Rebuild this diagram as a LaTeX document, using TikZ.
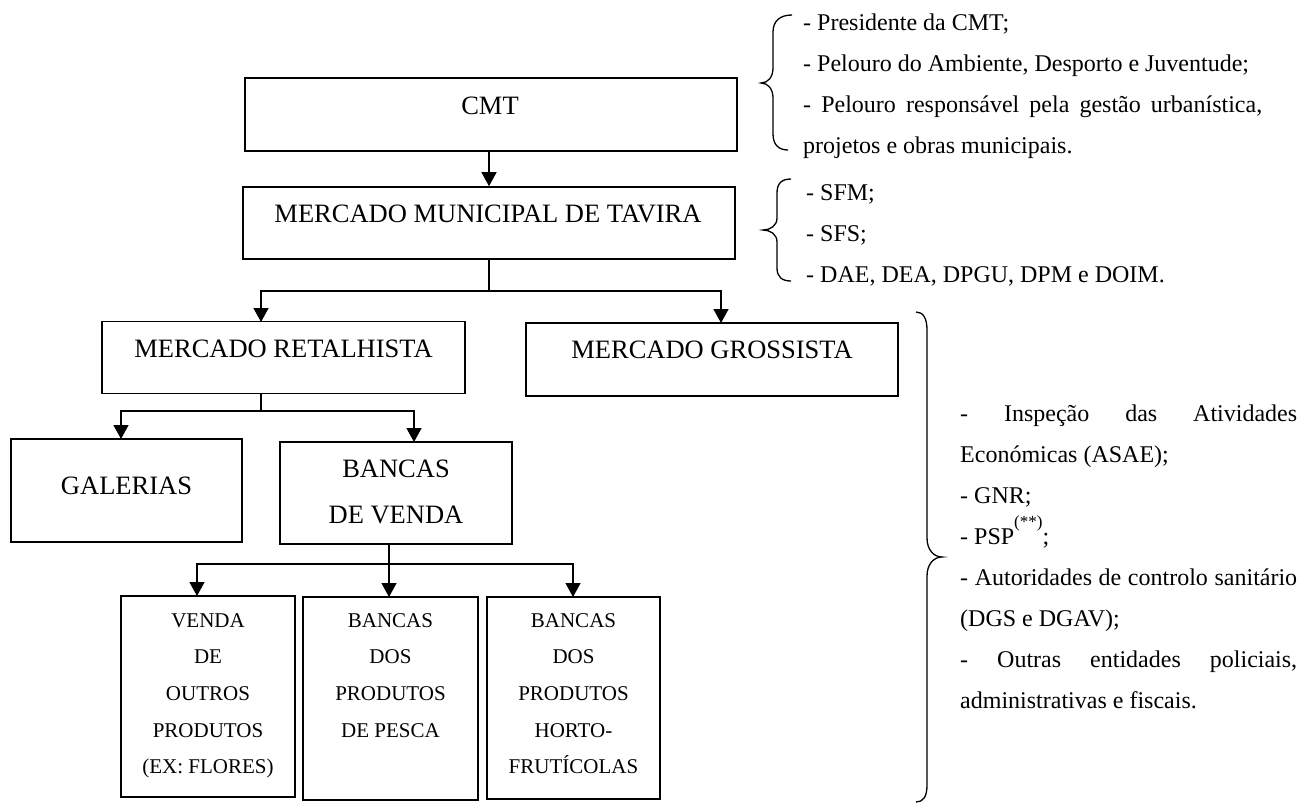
\documentclass[tikz,border=0pt]{standalone}
\usepackage{fontspec}
\setmainfont{Liberation Serif}
\usetikzlibrary{arrows.meta,calc}
\begin{document}
\begin{tikzpicture}[x=1pt,y=-1pt,
  box/.style={draw,line width=1.6pt,inner sep=0pt},
  conn/.style={line width=1.4pt},
  arr/.style={conn,-{Triangle[length=14pt,width=15pt]}},
  big/.style={font=\fontsize{26.5}{30}\selectfont,inner sep=0pt,anchor=base},
  small/.style={font=\fontsize{21}{25}\selectfont,inner sep=0pt,anchor=base},
  side/.style={font=\fontsize{24}{28}\selectfont,inner sep=0pt,anchor=base west},
  bracepath/.style={line width=1.3pt}]
\useasboundingbox (0,0) rectangle (1301,803);

% boxes
\node[box,minimum width=492pt,minimum height=73pt] (cmt) at (491,114.5) {};
\node[box,minimum width=492pt,minimum height=72pt] (mmt) at (489,223) {};
\node[box,minimum width=363pt,minimum height=72pt] (mr) at (283.5,357.5) {};
\node[box,minimum width=372pt,minimum height=73pt] (mg) at (712,359.5) {};
\node[box,minimum width=231pt,minimum height=103pt] (gal) at (126.5,490.5) {};
\node[box,minimum width=232pt,minimum height=102pt] (bdv) at (396,493) {};
\node[box,minimum width=174pt,minimum height=201pt] (b1) at (208,696.5) {};
\node[box,minimum width=175pt,minimum height=203pt] (b2) at (390.5,698.5) {};
\node[box,minimum width=173pt,minimum height=202pt] (b3) at (573.5,698) {};

% box texts
\node[big] (cmt-t) at (490,114) {CMT};
\node[big] (mmt-t) at (488,222) {MERCADO MUNICIPAL DE TAVIRA};
\node[big] (mr-t) at (283.5,357) {MERCADO RETALHISTA};
\node[big] (mg-t) at (712,358) {MERCADO GROSSISTA};
\node[big] (gal-t) at (126.5,494) {GALERIAS};
\node[big] (bdv-t1) at (396,477) {BANCAS};
\node[big] (bdv-t2) at (396,523) {DE VENDA};

\foreach \t [count=\i] in {VENDA,DE,OUTROS,PRODUTOS,(EX: FLORES)}
  \node[small] (b1-t\i) at (208,{627+36.7*(\i-1)}) {\t};
\foreach \t [count=\i] in {BANCAS,DOS,PRODUTOS,DE PESCA}
  \node[small] (b2-t\i) at (390.5,{627+36.7*(\i-1)}) {\t};
\foreach \t [count=\i] in {BANCAS,DOS,PRODUTOS,HORTO-,FRUTÍCOLAS}
  \node[small] (b3-t\i) at (573.5,{627+36.7*(\i-1)}) {\t};

% connectors
\draw[arr] (mmt.north |- cmt.south) -- (mmt.north);

\coordinate (s1) at (489,291);
\coordinate (mrin) at (261,322);
\coordinate (mgin) at (721,323);
\draw[conn] (mmt.south) -- (s1);
\draw[arr] (s1) -| (mrin);
\draw[arr] (s1) -| (mgin);

\coordinate (s2) at (261,411);
\coordinate (galin) at (121,439);
\coordinate (bdvin) at (414,442);
\draw[conn] (mr.south -| s2) -- (s2);
\draw[arr] (s2) -| (galin);
\draw[arr] (s2) -| (bdvin);

\coordinate (s3) at (389,564);
\coordinate (b1in) at (197,596);
\coordinate (b2in) at (389,597);
\coordinate (b3in) at (573,597);
\draw[conn] (bdv.south -| s3) -- (s3);
\draw[arr] (s3) -| (b1in);
\draw[arr] (s3) -- (b2in);
\draw[arr] (s3) -| (b3in);

% braces
\draw[bracepath] (792,15) .. controls (780,15) and (773,21) .. (773,32) -- (773,68)
  .. controls (773,77) and (768,83) .. (761,83)
  .. controls (768,83) and (773,89) .. (773,98) -- (773,134)
  .. controls (773,145) and (779,150) .. (788,150);
\draw[bracepath] (791,179) .. controls (781,179) and (777,184) .. (777,193) -- (777,218)
  .. controls (777,226) and (770,230) .. (763,230)
  .. controls (770,230) and (777,234) .. (777,242) -- (777,268)
  .. controls (777,277) and (782,281) .. (791,281);
\draw[bracepath] (916,312) .. controls (923,312) and (927,318) .. (927,330) -- (927,538)
  .. controls (927,550) and (934,557) .. (942,557)
  .. controls (934,557) and (927,564) .. (927,576) -- (927,785)
  .. controls (927,797) and (923,802) .. (916,802);

% side texts
\node[side] (g1a) at (803,30) {- Presidente da CMT;};
\node[side] (g1b) at (803,71) {- Pelouro do Ambiente, Desporto e Juventude;};
\node[side] (g1c) at (803,112) {\makebox[459pt][s]{- Pelouro responsável pela gestão urbanística,}};
\node[side] (g1d) at (803,153) {projetos e obras municipais.};

\node[side] (g2a) at (806,200) {- SFM;};
\node[side] (g2b) at (806,241) {- SFS;};
\node[side] (g2c) at (806,282) {- DAE, DEA, DPGU, DPM e DOIM.};

\node[side] (g3a) at (960,421) {\makebox[337pt][s]{- Inspeção das Atividades}};
\node[side] (g3b) at (960,462) {Económicas (ASAE);};
\node[side] (g3c) at (960,503) {- GNR;};
\node[side] (g3d) at (960,544) {- PSP\raisebox{17pt}{\fontsize{17}{17}\selectfont(**)};};
\node[side] (g3e) at (960,585) {\makebox[337pt][s]{- Autoridades de controlo sanitário}};
\node[side] (g3f) at (960,626) {(DGS e DGAV);};
\node[side] (g3g) at (960,667) {\makebox[337pt][s]{- Outras entidades policiais,}};
\node[side] (g3h) at (960,708) {administrativas e fiscais.};
\end{tikzpicture}
\end{document}
